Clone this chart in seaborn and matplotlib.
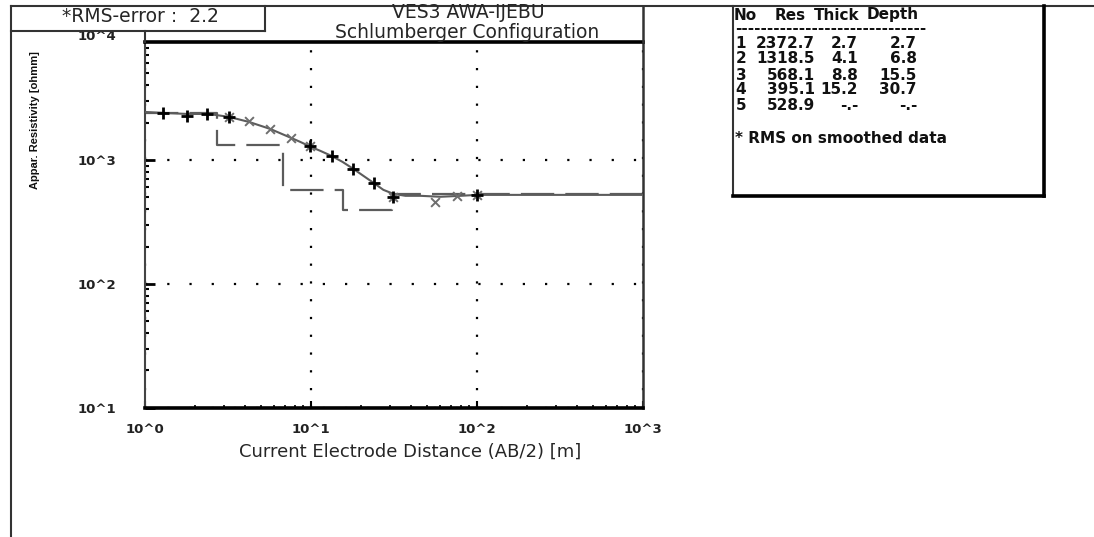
import matplotlib
matplotlib.use("Agg")
import matplotlib.pyplot as plt
import seaborn as sns
import pandas as pd
from matplotlib.lines import Line2D
from matplotlib.ticker import LogLocator, NullFormatter
from matplotlib import font_manager as fm

# ---------------- data ----------------
curve_ab2 = [1.0, 1.28, 1.79, 2.37, 2.65, 3.21, 4.24, 5.68, 7.6, 8.62, 10.0, 11.4,
             13.3, 15.5, 18.0, 20.7, 23.8, 27.3, 31.4, 37.1, 45.7, 60.3, 79.6,
             100.0, 139.0, 320.0, 1000.0]
curve_rho = [2438, 2395, 2350, 2350, 2308, 2223, 2024, 1778, 1504, 1397, 1273, 1182,
             1077, 963, 846, 743, 653, 573, 532, 513, 513, 504, 513,
             522, 522, 522, 522]

plus_ab2 = [1.28, 1.79, 2.37, 3.21, 9.91, 13.3, 18.0, 23.8, 31.4, 99.5]
plus_rho = [2395, 2265, 2350, 2223, 1297, 1077, 846, 653, 504, 522]

cross_ab2 = [3.21, 4.24, 5.68, 7.6, 9.91, 31.4, 56.2, 76.3, 99.5]
cross_rho = [2223, 2066, 1778, 1504, 1297, 504, 459, 513, 522]

layer_no = [1, 2, 3, 4, 5]
layer_res = [2372.7, 1318.5, 568.1, 395.1, 528.9]
layer_thick = [2.7, 4.1, 8.8, 15.2, None]
layer_depth = [2.7, 6.8, 15.5, 30.7, None]

x_ticks = [1, 10, 100, 1000]
x_ticklabels = ["10^0", "10^1", "10^2", "10^3"]
y_ticks = [10, 100, 1000]
y_ticklabels = ["10^1", "10^2", "10^3"]
y_top_tick = 10000
y_top_label = "10^4"

title1 = "VES3 AWA-IJEBU"
title2 = "Schlumberger Configuration"
rms_text = "*RMS-error :  2.2"
x_label = "Current Electrode Distance (AB/2) [m]"
y_label = "Appar. Resistivity [ohmm]"
table_header = ["No", "Res", "Thick", "Depth"]
table_note = "* RMS on smoothed data"

# ---------------- figure ----------------
sns.set_style("white")
plt.rcParams["font.family"] = ["DejaVu Sans"]

W, H = 1094, 537
fig = plt.figure(figsize=(W / 100, H / 100), dpi=100)
fig.patch.set_facecolor("white")


def fx(px):
    return px / W


def fy(py):
    return 1 - py / H


def line(xs, ys, lw=1.5, color="#333333"):
    fig.add_artist(Line2D([fx(v) for v in xs], [fy(v) for v in ys],
                          transform=fig.transFigure, lw=lw, color=color,
                          solid_capstyle="projecting"))


def has_font(name):
    try:
        fm.findfont(fm.FontProperties(family=name), fallback_to_default=False)
        return True
    except Exception:
        return False


ax = fig.add_axes([fx(145), fy(407.7), (643 - 145) / W, (407.7 - 42) / H])
ax.set_xscale("log")
ax.set_yscale("log")

df_curve = pd.DataFrame({"ab2": curve_ab2, "rho": curve_rho})
sns.lineplot(data=df_curve, x="ab2", y="rho", ax=ax, color="#5c5c5c", lw=1.5,
             sort=False, estimator=None, zorder=3)

step_x = [1.0] + [d for d in layer_depth if d is not None] + [1000.0]
step_y = layer_res + [layer_res[-1]]
df_step = pd.DataFrame({"depth": step_x, "res": step_y})
sns.lineplot(data=df_step, x="depth", y="res", ax=ax, color="#5c5c5c", lw=1.6,
             drawstyle="steps-post", linestyle=(0, (15, 5)), sort=False,
             estimator=None, zorder=2)

sns.scatterplot(x=plus_ab2, y=plus_rho, ax=ax, marker="+", s=80, color="black",
                linewidth=2.0, zorder=5)
sns.scatterplot(x=cross_ab2, y=cross_rho, ax=ax, marker="x", s=40, color="#6e6e6e",
                linewidth=1.4, zorder=4)

ax.set_xlim(1, 1000)
ax.set_ylim(10, 8946)
ax.set_xlabel("")
ax.set_ylabel("")

ax.set_xticks(x_ticks)
ax.set_xticklabels(x_ticklabels)
ax.set_yticks(y_ticks)
ax.set_yticklabels(y_ticklabels)
ax.xaxis.set_minor_locator(LogLocator(base=10, subs=range(2, 10), numticks=20))
ax.yaxis.set_minor_locator(LogLocator(base=10, subs=range(2, 10), numticks=20))
ax.xaxis.set_minor_formatter(NullFormatter())
ax.yaxis.set_minor_formatter(NullFormatter())

ax.tick_params(axis="y", which="major", direction="in", length=7, width=2,
               left=True, right=False, pad=21, labelsize=9.5, color="black")
ax.tick_params(axis="y", which="minor", direction="in", length=3, width=1.5,
               left=True, right=False, color="black")
ax.tick_params(axis="x", which="major", direction="in", length=5, width=1.5,
               bottom=True, top=False, pad=11, labelsize=9.5, color="black")
ax.tick_params(axis="x", which="minor", direction="in", length=2, width=1.2,
               bottom=True, top=False, color="black")
for lbl in ax.get_xticklabels() + ax.get_yticklabels():
    lbl.set_fontweight("bold")
    lbl.set_color("#222222")

# 10^4 label sits above the frame (frame top is below 10^4)
ax.annotate(y_top_label, xy=(0, y_top_tick), xycoords=("axes fraction", "data"),
            xytext=(-21, 0), textcoords="offset points", ha="right", va="center",
            fontsize=9.5, fontweight="bold", color="#222222", annotation_clip=False)

ax.xaxis.grid(True, which="major", linestyle=(0, (1, 7)), color="black", lw=1.6)
ax.yaxis.grid(True, which="major", linestyle=(0, (1, 9)), color="black", lw=1.6)
ax.set_axisbelow(True)

ax.spines["top"].set_linewidth(2.6)
ax.spines["top"].set_color("black")
ax.spines["bottom"].set_linewidth(2.6)
ax.spines["bottom"].set_color("black")
ax.spines["left"].set_linewidth(1.5)
ax.spines["left"].set_color("#444444")
ax.spines["right"].set_linewidth(1.8)
ax.spines["right"].set_color("#333333")

# ---------------- frame lines ----------------
line([11, 1094], [6, 6], lw=1.5)            # top border
line([11, 11], [6, 537], lw=1.5)             # left border
line([11, 265], [31, 31], lw=1.5)            # RMS box bottom
line([265, 265], [6, 31], lw=1.5)            # RMS box right
line([145, 145], [31, 42], lw=1.5)           # axis left extension
line([643, 643], [6, 42], lw=1.8)            # title box right
line([733, 733], [6, 196], lw=1.5)           # table box left
line([733, 1044], [196, 196], lw=2.6, color="black")   # table bottom
line([1044, 1044], [6, 196], lw=2.6, color="black")    # table right

# ---------------- texts ----------------
fig.text(fx(140), fy(17), rms_text, ha="center", va="center", fontsize=13.5)
fig.text(fx(468), fy(12), title1, ha="center", va="center", fontsize=13.5)
fig.text(fx(467), fy(33), title2, ha="center", va="center", fontsize=13.5)

if has_font("Liberation Sans Narrow"):
    yl_family, yl_size = ["Liberation Sans Narrow", "DejaVu Sans"], 9.5
elif has_font("DejaVu Sans Condensed"):
    yl_family, yl_size = ["DejaVu Sans Condensed", "DejaVu Sans"], 8.5
else:
    yl_family, yl_size = ["Liberation Sans", "DejaVu Sans"], 8.0
fig.text(fx(35), fy(120), y_label, ha="center", va="center", rotation=90,
         fontsize=yl_size, fontweight="bold", family=yl_family, color="#111111")
fig.text(fx(410), fy(452), x_label, ha="center", va="center", fontsize=13)

# table
tfs = 11
kw = dict(va="center", fontsize=tfs, fontweight="bold", color="#111111")
fig.text(fx(734), fy(15), table_header[0], ha="left", **kw)
fig.text(fx(790), fy(15), table_header[1], ha="center", **kw)
fig.text(fx(837), fy(15), table_header[2], ha="center", **kw)
fig.text(fx(893), fy(15), table_header[3], ha="center", **kw)
fig.text(fx(735), fy(29), "-" * 30, ha="left", **kw)
row_y = [43, 59, 75, 90, 106]
for i, yy in enumerate(row_y):
    th = "-.-" if layer_thick[i] is None else f"{layer_thick[i]:.1f}"
    de = "-.-" if layer_depth[i] is None else f"{layer_depth[i]:.1f}"
    fig.text(fx(741), fy(yy), str(layer_no[i]), ha="center", **kw)
    fig.text(fx(815), fy(yy), f"{layer_res[i]:.1f}", ha="right", **kw)
    fig.text(fx(858), fy(yy), th, ha="right", **kw)
    fig.text(fx(917), fy(yy), de, ha="right", **kw)
fig.text(fx(735), fy(138), table_note, ha="left", **kw)

fig.savefig("out.png", dpi=100, facecolor="white")
